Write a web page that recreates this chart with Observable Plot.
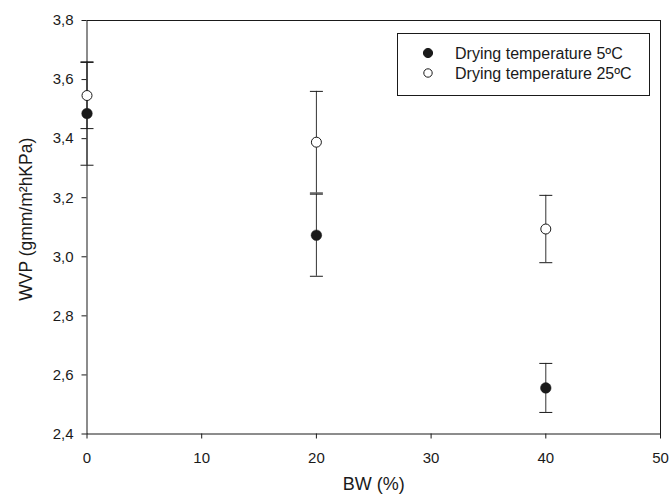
<!DOCTYPE html>
<html>
<head>
<meta charset="utf-8">
<script src="https://cdn.jsdelivr.net/npm/d3@7"></script>
<script src="https://cdn.jsdelivr.net/npm/@observablehq/plot@0.6"></script>
<style>
  html, body { margin: 0; padding: 0; background: #fff; }
  #wrap { position: relative; width: 672px; height: 496px; font-family: "Liberation Sans", Arial, sans-serif; color: #1a1a1a; }
  #legend { position: absolute; left: 397px; top: 33px; }
</style>
</head>
<body>
<div id="wrap"></div>
<script>
// Data
const bw = [0, 20, 40];                       // BW (%)
const wvp5 = [3.485, 3.073, 2.556];           // Drying temperature 5ºC
const err5 = [0.175, 0.139, 0.083];
const wvp25 = [3.546, 3.388, 3.094];          // Drying temperature 25ºC
const err25 = [0.112, 0.172, 0.114];
const xTicks = [0, 10, 20, 30, 40, 50];
const yTicks = [2.4, 2.6, 2.8, 3.0, 3.2, 3.4, 3.6, 3.8];
const seriesNames = ["Drying temperature 5ºC", "Drying temperature 25ºC"];
const xTitle = "BW (%)";
const yTitle = "WVP (gmm/m²hKPa)";

const ink = "#1a1a1a";
const rows = [
  ...bw.map((x, i) => ({series: 0, x, y: wvp5[i], lo: wvp5[i] - err5[i], hi: wvp5[i] + err5[i]})),
  ...bw.map((x, i) => ({series: 1, x, y: wvp25[i], lo: wvp25[i] - err25[i], hi: wvp25[i] + err25[i]}))
];
const caps = rows.flatMap(d => [{x: d.x, y: d.lo}, {x: d.x, y: d.hi}]);
const capSymbol = {draw(ctx) { ctx.moveTo(-6.5, 0); ctx.lineTo(6.5, 0); }};
const fmt = d => d.toFixed(1).replace(".", ",");

const chart = Plot.plot({
  width: 672,
  height: 496,
  marginLeft: 86.5,
  marginRight: 12,
  marginTop: 20,
  marginBottom: 62.5,
  style: {fontFamily: '"Liberation Sans", Arial, sans-serif', fontSize: "15px", color: ink, background: "#fff", overflow: "visible"},
  x: {domain: [0, 50]},
  y: {domain: [2.4, 3.8]},
  marks: [
    Plot.axisX({ticks: xTicks, tickSize: 5, tickPadding: 13, stroke: ink, fill: ink, fontSize: 15, label: null}),
    Plot.axisX({ticks: [], label: xTitle, labelAnchor: "center", labelArrow: "none", labelOffset: 56, fontSize: 18, fill: ink}),
    Plot.axisY({ticks: yTicks, tickFormat: fmt, tickSize: 5, tickPadding: 8.5, stroke: ink, fill: ink, fontSize: 15, label: null}),
    Plot.text([yTitle], {text: d => d, frameAnchor: "left", textAnchor: "middle", lineAnchor: "middle", rotate: -90, dx: -60.5, dy: -8, fontSize: 17.5, fill: ink}),
    Plot.frame({stroke: ink, strokeWidth: 1}),
    Plot.ruleX(rows, {x: "x", y1: "lo", y2: "hi", stroke: "#333", strokeWidth: 1}),
    Plot.dot(caps, {x: "x", y: "y", symbol: capSymbol, stroke: ink, fill: "none", strokeWidth: 1}),
    Plot.dot(rows.filter(d => d.series === 1), {x: "x", y: "y", r: 5, fill: "#fff", stroke: ink, strokeWidth: 1}),
    Plot.dot(rows.filter(d => d.series === 0), {x: "x", y: "y", r: 5.3, fill: ink, stroke: ink, strokeWidth: 0.5})
  ]
});

const wrap = document.getElementById("wrap");
wrap.appendChild(chart);

// Legend box
const lw = 253, lh = 63;
const leg = d3.create("svg").attr("id", "legend").attr("width", lw).attr("height", lh)
  .style("font-family", '"Liberation Sans", Arial, sans-serif').style("font-size", "16px");
leg.append("rect").attr("x", 0.5).attr("y", 0.5).attr("width", lw - 1).attr("height", lh - 1)
  .attr("fill", "#fff").attr("stroke", ink);
seriesNames.forEach((name, i) => {
  const cy = 20 + i * 20;
  leg.append("circle").attr("cx", 31).attr("cy", cy).attr("r", i === 0 ? 4.6 : 4.2)
    .attr("fill", i === 0 ? ink : "#fff").attr("stroke", ink).attr("stroke-width", 1);
  leg.append("text").attr("x", 58).attr("y", cy).attr("dy", "0.35em").attr("fill", ink).text(name);
});
wrap.appendChild(leg.node());
</script>
</body>
</html>
